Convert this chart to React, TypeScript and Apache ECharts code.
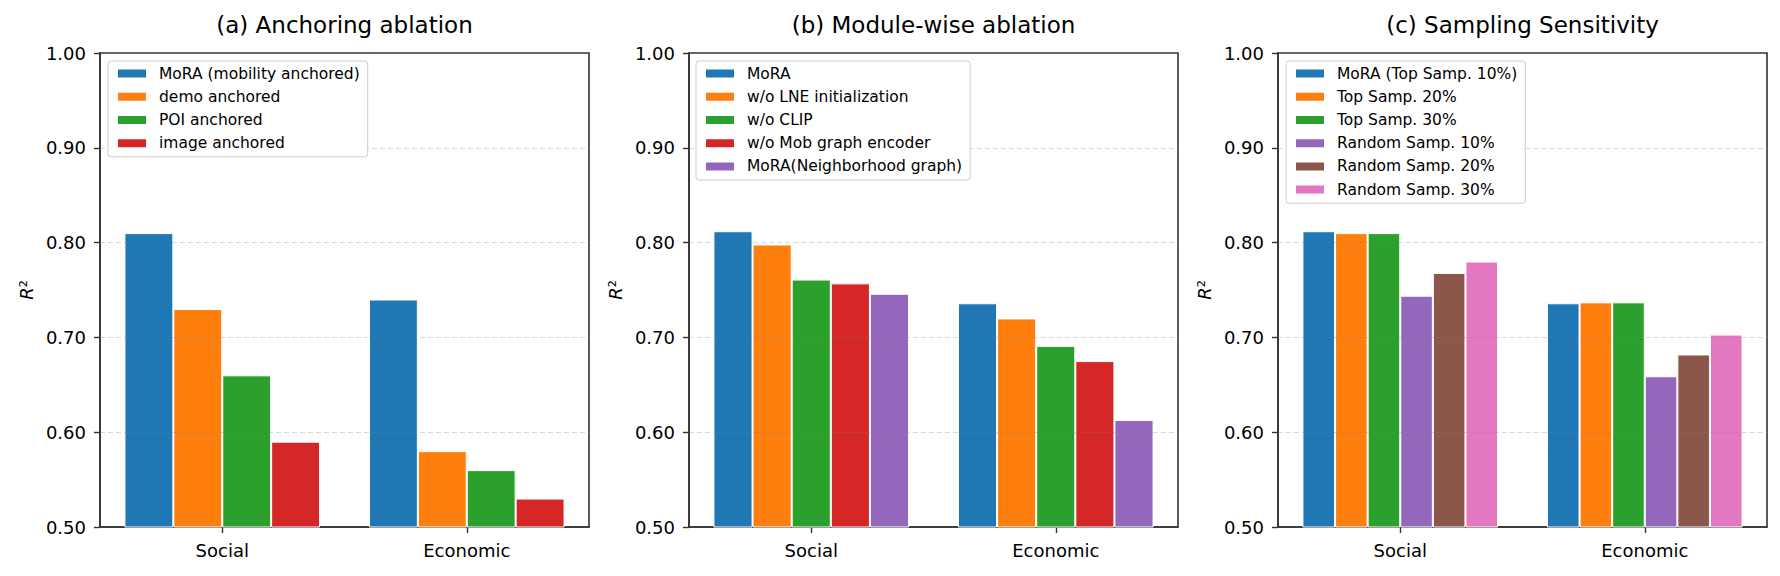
import React, { useEffect, useRef } from 'react';
import * as echarts from 'echarts';

const categories = ['Social', 'Economic'];

const anchorLabels = ['MoRA (mobility anchored)', 'demo anchored', 'POI anchored', 'image anchored'];
const anchorSocial = [0.81, 0.73, 0.66, 0.59];
const anchorEconomic = [0.74, 0.58, 0.56, 0.53];
const anchorColors = ['#1f77b4', '#ff7f0e', '#2ca02c', '#d62728'];

const moduleLabels = ['MoRA', 'w/o LNE initialization', 'w/o CLIP', 'w/o Mob graph encoder', 'MoRA(Neighborhood graph)'];
const moduleSocial = [0.812, 0.798, 0.761, 0.757, 0.746];
const moduleEconomic = [0.736, 0.72, 0.691, 0.675, 0.613];
const moduleColors = ['#1f77b4', '#ff7f0e', '#2ca02c', '#d62728', '#9467bd'];

const samplingLabels = ['MoRA (Top Samp. 10%)', 'Top Samp. 20%', 'Top Samp. 30%', 'Random Samp. 10%', 'Random Samp. 20%', 'Random Samp. 30%'];
const samplingSocial = [0.812, 0.81, 0.81, 0.744, 0.768, 0.78];
const samplingEconomic = [0.736, 0.737, 0.737, 0.659, 0.682, 0.703];
const samplingColors = ['#1f77b4', '#ff7f0e', '#2ca02c', '#9467bd', '#8c564b', '#e377c2'];

const panelTitles = ['(a) Anchoring ablation', '(b) Module-wise ablation', '(c) Sampling Sensitivity'];
const yMin = 0.5;
const yMax = 1.0;
const yInterval = 0.1;
const gridLineValues = [0.6, 0.7, 0.8, 0.9];

const FONT = 'DejaVu Sans';

export default function App() {
  const ref = useRef<HTMLDivElement>(null);

  useEffect(() => {
    if (!ref.current) return;
    const chart = echarts.init(ref.current, undefined, { renderer: 'svg' });

    const panels = [
      { labels: anchorLabels, social: anchorSocial, economic: anchorEconomic, colors: anchorColors },
      { labels: moduleLabels, social: moduleSocial, economic: moduleEconomic, colors: moduleColors },
      { labels: samplingLabels, social: samplingSocial, economic: samplingEconomic, colors: samplingColors },
    ];

    const lefts = [100, 689, 1278];
    const legendLefts = [108, 696, 1286];
    const gridW = 489;
    const gridTop = 53;
    const gridH = 474;

    const grids: any[] = [];
    const xAxes: any[] = [];
    const yAxes: any[] = [];
    const legends: any[] = [];
    const series: any[] = [];
    const graphics: any[] = [];

    panels.forEach((p, pi) => {
      grids.push({
        left: lefts[pi],
        top: gridTop,
        width: gridW,
        height: gridH,
        show: true,
        borderColor: '#333',
        borderWidth: 1.6,
        backgroundColor: 'transparent',
        containLabel: false,
      });
      xAxes.push({
        type: 'category',
        gridIndex: pi,
        data: categories,
        axisLine: { show: true, lineStyle: { color: '#333', width: 1.6 } },
        axisTick: { show: true, alignWithLabel: true, length: 6, lineStyle: { color: '#333', width: 1.4 } },
        axisLabel: { color: '#000', fontSize: 18, fontFamily: FONT, margin: 14 },
        splitLine: { show: false },
      });
      yAxes.push({
        type: 'value',
        gridIndex: pi,
        min: yMin,
        max: yMax,
        interval: yInterval,
        name: '{i|R}²',
        nameLocation: 'middle',
        nameRotate: 90,
        nameGap: 65,
        nameTextStyle: {
          color: '#000',
          fontSize: 18,
          fontFamily: FONT,
          rich: { i: { fontStyle: 'italic', fontSize: 18, fontFamily: FONT, color: '#000' } },
        },
        axisLine: { show: true, lineStyle: { color: '#333', width: 1.6 } },
        axisTick: { show: true, length: 6, lineStyle: { color: '#333', width: 1.4 } },
        axisLabel: {
          color: '#000',
          fontSize: 18,
          fontFamily: FONT,
          margin: 14,
          formatter: (v: number) => v.toFixed(2),
        },
        splitLine: { show: false },
      });
      legends.push({
        data: p.labels,
        orient: 'vertical',
        left: legendLefts[pi],
        top: 61,
        z: 10,
        itemWidth: 30,
        itemHeight: 10,
        itemGap: 6,
        icon: 'rect',
        padding: [4, 8, 5, 8],
        backgroundColor: 'rgba(255,255,255,0.8)',
        borderColor: '#cccccc',
        borderWidth: 1,
        borderRadius: 3,
        textStyle: { color: '#000', fontSize: 15.5, fontFamily: FONT, lineHeight: 17.2, padding: [0, 0, 0, 7] },
        selectedMode: false,
      });
      const barPct = (80 / p.labels.length).toFixed(3) + '%';
      p.labels.forEach((name, i) => {
        const s: any = {
          type: 'bar',
          name,
          xAxisIndex: pi,
          yAxisIndex: pi,
          data: [p.social[i], p.economic[i]],
          barWidth: barPct,
          barGap: '0%',
          itemStyle: { color: p.colors[i], borderColor: '#ffffff', borderWidth: 1 },
          emphasis: { disabled: true },
          silent: true,
        };
        if (i === p.labels.length - 1) {
          s.markLine = {
            silent: true,
            symbol: ['none', 'none'],
            label: { show: false },
            z: 5,
            lineStyle: { type: [5, 3], color: 'rgba(128,128,128,0.3)', width: 1.2 },
            data: gridLineValues.map((v) => ({ yAxis: v })),
          };
        }
        series.push(s);
      });
      graphics.push({
        type: 'text',
        x: lefts[pi] + gridW / 2,
        y: 25,
        style: {
          text: panelTitles[pi],
          fontSize: 23,
          fontFamily: FONT,
          fill: '#000',
          align: 'center',
          verticalAlign: 'middle',
        },
      });
    });

    chart.setOption({
      animation: false,
      backgroundColor: '#ffffff',
      grid: grids,
      xAxis: xAxes,
      yAxis: yAxes,
      legend: legends,
      series,
      graphic: graphics,
    });

    return () => {
      chart.dispose();
    };
  }, []);

  return (
    <div
      ref={ref}
      style={{ position: 'fixed', left: 0, top: 0, width: 1780, height: 576, background: '#fff' }}
    />
  );
}
